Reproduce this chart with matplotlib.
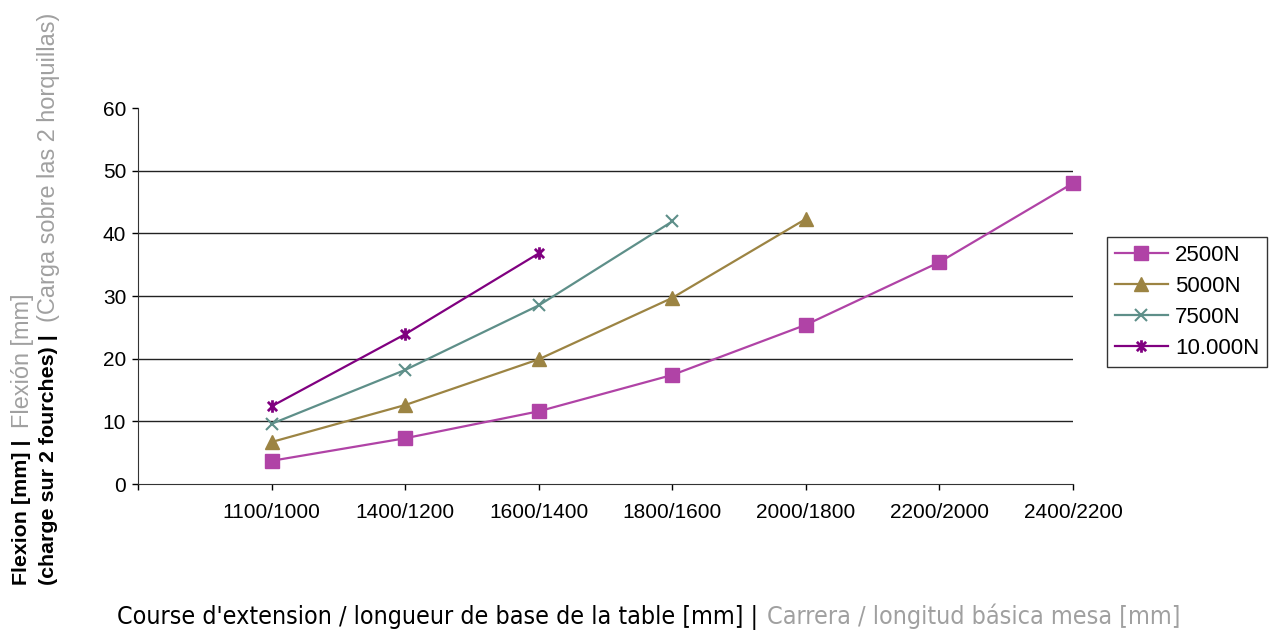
import matplotlib
matplotlib.use("Agg")
import matplotlib.pyplot as plt
from matplotlib.path import Path

plt.rcParams['font.family'] = ['Liberation Sans', 'DejaVu Sans']

categories = ["1100/1000", "1400/1200", "1600/1400", "1800/1600", "2000/1800", "2200/2000", "2400/2200"]
s2500 = [3.7, 7.3, 11.6, 17.4, 25.4, 35.4, 48.0]
s5000 = [6.7, 12.6, 19.9, 29.7, 42.3]
s7500 = [9.6, 18.2, 28.5, 41.9]
s10000 = [12.4, 23.9, 36.8]
series_names = ["2500N", "5000N", "7500N", "10.000N"]
yticks = [0, 10, 20, 30, 40, 50, 60]

W, H = 1276, 630
star = Path([(-1, -1), (1, 1), (-1, 1), (1, -1), (0, -1.35), (0, 1.35)],
            [Path.MOVETO, Path.LINETO, Path.MOVETO, Path.LINETO, Path.MOVETO, Path.LINETO])

fig = plt.figure(figsize=(W/100, H/100), dpi=100)
ax = fig.add_axes([138/W, 1-484/H, (1073-138)/W, (484-108)/H])

styles = [
    dict(color="#B043A6", marker="s", ms=9.5, mec="#B043A6", mfc="#B043A6"),
    dict(color="#9C8443", marker="^", ms=10.5, mec="#9C8443", mfc="#9C8443"),
    dict(color="#5E8F89", marker="x", ms=9, mew=1.5),
    dict(color="#800080", marker=star, ms=9, mew=2.0),
]
data = [s2500, s5000, s7500, s10000]
for name, vals, st in zip(series_names, data, styles):
    xs = list(range(1, len(vals) + 1))
    ax.plot(xs, vals, lw=1.6, label=name, clip_on=False, **st)

ax.set_xlim(0, 7)
ax.set_ylim(0, 60)
ax.set_yticks(yticks)
ax.set_xticks(range(0, 8))
ax.set_xticklabels([""] + categories)
ax.tick_params(axis='both', labelsize=15, colors='black', length=4.5, width=1, direction='out')
ax.tick_params(axis='x', pad=9)
ax.tick_params(axis='y', pad=4)
for v in yticks[1:-1]:
    ax.axhline(v, color='#222222', lw=1, zorder=0)
for s in ['top', 'right']:
    ax.spines[s].set_visible(False)
ax.spines['left'].set_color('#333333')
ax.spines['bottom'].set_color('#333333')

leg = fig.legend(loc='upper left', bbox_to_anchor=(1107/W, 1-237/H), fontsize=16,
                 frameon=True, fancybox=False, edgecolor='#333333', framealpha=1,
                 handlelength=2.4, borderpad=0.35, labelspacing=0.45, handletextpad=0.3,
                 borderaxespad=0)
leg.get_frame().set_linewidth(1)

renderer = fig.canvas.get_renderer()

def fit(t, target, vertical=False):
    for _ in range(3):
        bb = t.get_window_extent(renderer)
        cur = bb.height if vertical else bb.width
        t.set_fontsize(t.get_fontsize() * target / cur)
    return t.get_fontsize()

gray = '#A0A0A0'
# x label (two colours)
xfam = ['DejaVu Sans', 'Liberation Sans']
t1 = fig.text(117/W, 1-624/H, "Course d'extension / longueur de base de la table [mm] |",
              color='black', ha='left', va='baseline', fontsize=16, family=xfam, fontstretch='condensed')
fit(t1, 755-117)
t2 = fig.text(767/W, 1-624/H, "Carrera / longitud básica mesa [mm]",
              color=gray, ha='left', va='baseline', fontsize=16, family=xfam, fontstretch='condensed')
fit(t2, 1181-767)

# y label
bfam = ['Liberation Sans Narrow', 'Liberation Sans']
b2 = fig.text(49/W, 1-585/H, "(charge sur 2 fourches) |", color='black', rotation=90,
              ha='center', va='bottom', fontsize=16, family=bfam, fontweight='bold')
bsize = fit(b2, 585-335, vertical=True)
g2 = fig.text(49/W, 1-322/H, "(Carga sobre las 2 horquillas)", color=gray, rotation=90,
              ha='center', va='bottom', fontsize=16)
gsize = fit(g2, 322-15, vertical=True)
b1 = fig.text(22/W, 1-585/H, "Flexion [mm] |", color='black', rotation=90,
              ha='center', va='bottom', fontsize=bsize, family=bfam, fontweight='bold')
bb1 = b1.get_window_extent(renderer)
g1 = fig.text(22/W, (bb1.y1 + 11)/H, "Flexión [mm]", color=gray, rotation=90,
              ha='center', va='bottom', fontsize=gsize)

fig.savefig("out.png", dpi=100)
